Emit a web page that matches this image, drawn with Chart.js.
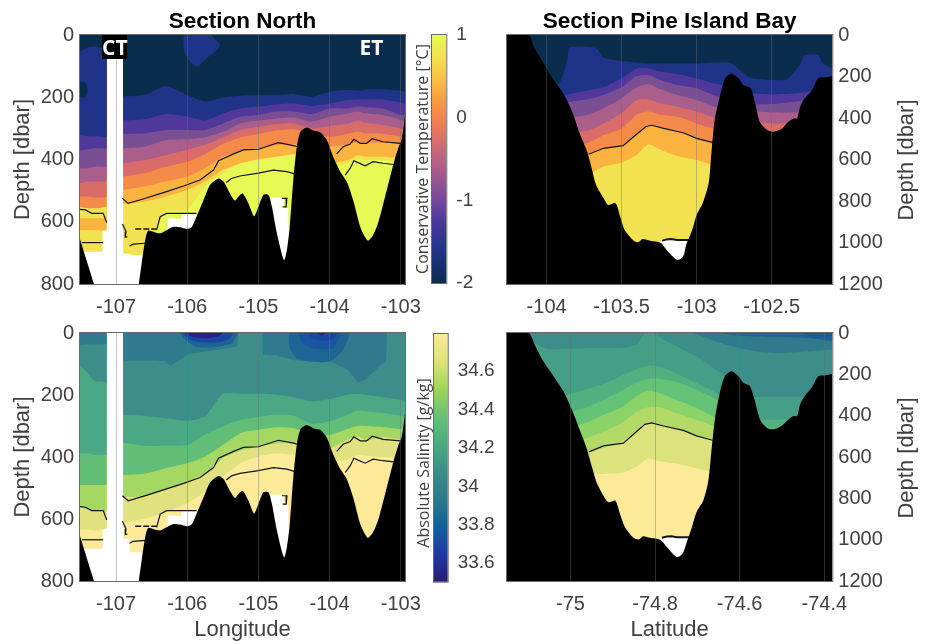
<!DOCTYPE html>
<html>
<head>
<meta charset="utf-8">
<title>Sections</title>
<script src="https://cdn.jsdelivr.net/npm/chart.js@4"></script>
<style>
  html, body { margin: 0; padding: 0; background: #fff; overflow: hidden; }
  #wrap { position: relative; width: 925px; height: 641px; }
  canvas { position: absolute; left: 0; top: 0; }
  .tag { position: absolute; color: #fff; font: bold 21px "Open Sans", sans-serif; text-align: center; z-index: 5; }
  .side { position: absolute; color: #404040; white-space: nowrap; transform: translate(-50%, -50%) rotate(-90deg); z-index: 5; }
  .depth { font: 22px "Liberation Sans", Arial, sans-serif; }
  .bar { font: 16px "Open Sans", sans-serif; }
</style>
</head>
<body>
<div id="wrap">
  <canvas id="northTemp" width="925" height="641"></canvas>
  <canvas id="pineTemp" width="925" height="641"></canvas>
  <canvas id="northSal" width="925" height="641"></canvas>
  <canvas id="pineSal" width="925" height="641"></canvas>
  <canvas id="tempBar" width="925" height="641"></canvas>
  <canvas id="salBar" width="925" height="641"></canvas>
  <div class="tag" style="left:102px;top:35px;width:25px;height:24px;line-height:24px;background:#000;">CT</div>
  <div class="tag" style="left:358px;top:35px;width:27px;height:24px;line-height:24px;">ET</div>
  <div class="side depth" style="left:906px;top:160px;">Depth [dbar]</div>
  <div class="side depth" style="left:906px;top:458px;">Depth [dbar]</div>
  <div class="side bar" style="left:422px;top:159px;">Conservative Temperature [°C]</div>
  <div class="side bar" style="left:423px;top:463px;">Absolute Salinity [g/kg]</div>
</div>
<script>
// ticks
const northLonTicks = [-107, -106, -105, -104, -103];
const northDepthTicks = [0, 200, 400, 600, 800];
const pineLonTicks = [-104, -103.5, -103, -102.5];
const pineLatTicks = [-75, -74.8, -74.6, -74.4];
const pineDepthTicks = [0, 200, 400, 600, 800, 1000, 1200];
const tempBarTicks = [-2, -1, 0, 1];
const salBarTicks = [33.6, 33.8, 34, 34.2, 34.4, 34.6];

// colours, deep to shallow
const navy = '#0a2d4e', blue = '#1f3488', purple = '#50379c', mauve = '#7a4e93', rose = '#a95e8c';
const salmon = '#d96c68', orange = '#f58b48', lightOrange = '#fbb33f', yellow = '#f2e250', bright = '#e6f954';
const pale = '#fdea98', paleLime = '#dfe27e', lime = '#a5d862', green1 = '#62be77';
const teal3 = '#4aa884', teal2 = '#3d8d8a', teal1 = '#2f7a8d', blue3 = '#1d6595', blue2 = '#1a45a0', indigo = '#2b1e8c';
const pineF = '#dde37c', pineE = '#b3da66', pineD = '#8bd368', pineC = '#64c276', pineB = '#52b080', pineA = '#459e86';
const tempStops = [navy, '#1a2f72', '#2b3592', '#4d389c', '#75499a', '#985690', '#bb6286', '#dd6f68', '#f4844c', '#fca03d', '#f9c546', '#f2e350', bright];
const salStops = ['#2a1a78', '#1e3aa0', '#125f9c', '#2a7a8e', '#3b8e88', '#4aab82', '#66c272', '#9dd65a', '#dde27a', pale];

// Section North, sea floor
const floorWestLon = [-107.51, -107.31];
const floorWestDepth = [653, 800];
const floorLon = [-106.68, -106.64, -106.59, -106.55, -106.48, -106.38, -106.29, -106.19, -106.1, -106.01, -105.94, -105.87, -105.77, -105.68, -105.56, -105.49, -105.4, -105.33, -105.28, -105.22, -105.14, -105.06, -105, -104.93, -104.86, -104.81, -104.74, -104.64, -104.6, -104.56, -104.51, -104.46, -104.41, -104.32, -104.23, -104.13, -104.04, -103.95, -103.85, -103.76, -103.67, -103.57, -103.5, -103.46, -103.39, -103.32, -103.22, -103.1, -103.03, -102.99, -102.96, -102.94];
const floorDepth = [800, 734, 659, 629, 632, 637, 627, 616, 618, 623, 618, 584, 530, 482, 461, 471, 509, 532, 519, 509, 541, 582, 552, 514, 514, 552, 637, 723, 691, 616, 466, 359, 311, 297, 307, 313, 337, 391, 439, 471, 530, 616, 650, 661, 643, 605, 519, 412, 359, 337, 295, 257];

// Section North, lower limit of the gridded data
const dataEndWestLon = [-107.51, -107.19, -107.19, -107.13];
const dataEndWestDepth = [696, 696, 629, 629];
const dataEndLon = [-106.9, -106.81, -106.81, -106.3, -106.27, -106.08, -106.08, -105.87, -105.87, -104.83, -104.83, -104.64, -104.64, -104.58, -104.58, -104.51, -104.51, -102.94];
const dataEndDepth = [664, 664, 707, 707, 589, 591, 576, 576, 700, 700, 522, 522, 555, 555, 620, 620, 800, 800];

// Section North contours, east of the gap
const northLon = [-106.9, -106.6, -106.3, -106, -105.75, -105.5, -105.25, -105, -104.75, -104.5, -104.25, -104, -103.75, -103.6, -103.5, -103.25, -103, -102.94];
const tempEast9 = [702, 702, 568, 562, 487, 444, 412, 402, 391, 386, 391, 423, 412, 399, 402, 404, 408, 412];
const tempEast8 = [543, 536, 519, 498, 471, 434, 412, 399, 391, 382, 391, 412, 402, 386, 391, 391, 396, 399];
const tempEast7 = [498, 487, 471, 455, 428, 391, 372, 364, 353, 350, 359, 359, 353, 343, 346, 346, 350, 353];
const tempEast6 = [455, 444, 423, 407, 382, 350, 329, 318, 307, 303, 316, 327, 318, 311, 316, 318, 327, 332];
const tempEast5 = [412, 402, 386, 369, 353, 329, 305, 295, 286, 284, 300, 292, 286, 275, 282, 289, 300, 305];
const tempEast4 = [364, 359, 337, 335, 329, 311, 284, 275, 268, 265, 279, 262, 252, 246, 252, 257, 273, 278];
const tempEast3 = [318, 316, 305, 305, 305, 284, 262, 257, 246, 246, 254, 236, 236, 230, 232, 236, 257, 257];
const tempEast2 = [275, 271, 254, 262, 275, 252, 236, 230, 223, 220, 228, 220, 209, 207, 207, 207, 217, 222];
const tempEast1 = [198, 193, 164, 193, 214, 201, 195, 193, 193, 190, 198, 182, 177, 179, 175, 175, 179, 182];
const tempBlobLon = [-106.05, -106.045, -105.96, -105.87, -105.8, -105.73, -105.61, -105.54, -105.61, -105.66];
const tempBlobDepth = [0, 48, 86, 102, 91, 75, 54, 32, 14, 0];

const salEast6 = [612, 599, 579, 549, 512, 463, 420, 398, 389, 393, 398, 415, 409, 393, 396, 401, 404, 407];
const salEast5 = [528, 528, 504, 479, 452, 404, 379, 366, 357, 353, 357, 371, 345, 334, 345, 337, 343, 347];
const salEast4 = [458, 454, 436, 420, 398, 361, 323, 312, 304, 307, 329, 329, 310, 300, 300, 304, 310, 312];
const salEast3 = [353, 364, 364, 361, 328, 302, 280, 271, 264, 267, 293, 285, 264, 250, 253, 258, 267, 269];
const salEast2 = [264, 267, 275, 283, 269, 196, 196, 196, 199, 207, 221, 213, 199, 196, 199, 207, 215, 219];
const salEast1Lon = [-106.9, -106.6, -106.3, -106.24, -105.98, -105.75, -105.3, -105.28, -104.95, -104.93, -104.75, -104.5, -104.25, -104, -103.75, -103.6, -103.5, -103.25, -103.21, -103.19];
const salEast1 = [90, 89, 92, 104, 69, 60, 42, 0, 0, 69, 72, 88, 92, 92, 118, 159, 151, 97, 95, 0];
const salBlobA1Lon = [-106.1, -106.03, -105.87, -105.59, -105.38, -105.28];
const salBlobA1 = [0, 22, 45, 45, 34, 0];
const salBlobA2Lon = [-106.06, -105.98, -105.82, -105.54, -105.4, -105.36];
const salBlobA2 = [0, 19, 30, 30, 16, 0];
const salBlobA3Lon = [-106.02, -105.94, -105.73, -105.56, -105.5];
const salBlobA3 = [0, 11, 16, 11, 0];
const salBlobB1Lon = [-104.58, -104.56, -104.46, -104.28, -104, -103.81, -103.71];
const salBlobB1 = [0, 48, 81, 92, 92, 54, 0];
const salBlobB2Lon = [-104.44, -104.39, -104.2, -103.95, -103.83];
const salBlobB2 = [0, 32, 52, 48, 0];
const salBlobB3Lon = [-104.3, -104.23, -104.09, -103.95, -103.89];
const salBlobB3 = [0, 19, 24, 19, 0];
const salBlobB4Lon = [-104.16, -104.11, -104.06];
const salBlobB4 = [0, 9, 0];

// Section North contours, west of the gap
const westLon = [-107.51, -107.4, -107.3, -107.2, -107.13];
const tempWest9 = [627, 627, 627, 627, 627];
const tempWest8 = [589, 589, 589, 589, 589];
const tempWest7 = [552, 557, 557, 554, 552];
const tempWest6 = [519, 519, 522, 522, 522];
const tempWest5 = [477, 471, 471, 471, 471];
const tempWest4 = [428, 428, 423, 423, 423];
const tempWest3 = [372, 367, 364, 364, 364];
const tempWest2 = [321, 325, 325, 327, 329];
const tempWest1 = [54, 40, 37, 41, 43];
const tempWestBlobLon = [-107.51, -107.43, -107.4, -107.43, -107.51];
const tempWestBlobDepth = [150, 155, 177, 198, 203];
const salWest5 = [635, 635, 637, 635, 630];
const salWest4 = [560, 569, 573, 573, 576];
const salWest3 = [490, 490, 490, 490, 490];
const salWest2 = [388, 388, 393, 393, 393];
const salWest1 = [102, 129, 156, 156, 162];
const salWest0 = [38, 36, 36, 36, 34];

// Section North, black contour lines
const lineWest1Lon = [-107.51, -107.43, -107.34, -107.18, -107.13];
const lineWest1 = [560, 562, 573, 573, 603];
const lineWest2Lon = [-107.48, -107.18];
const lineWest2 = [667, 667];
const lineMainLon = [-106.91, -106.83, -106.62, -106.29, -106.05, -105.82, -105.63, -105.56, -105.35, -105.21, -105, -104.72, -104.49, -104.42];
const lineMain = [525, 541, 527, 503, 485, 466, 434, 404, 382, 369, 367, 346, 356, 362];
const lineLowLon = [-105.45, -105.38, -105.26, -105, -104.79, -104.6, -104.47];
const lineLow = [474, 461, 453, 444, 434, 439, 448];
const lineRidgeLon = [-103.9, -103.81, -103.71, -103.66, -103.57, -103.48, -103.4, -103.25, -103];
const lineRidge = [382, 359, 350, 335, 348, 348, 333, 343, 348];
const lineRidgeLowLon = [-103.78, -103.71, -103.66, -103.6, -103.5, -103.39, -103.25, -103.1];
const lineRidgeLow = [450, 428, 404, 410, 420, 407, 412, 416];
const lineShelfLon = [-106.43, -106.38, -106.29, -105.87];
const lineShelf = [627, 584, 573, 573];
const lineGapLon = [-106.91, -106.86, -106.87, -106.84];
const lineGap = [607, 632, 650, 648];
const lineDashLon = [-106.73, -106.43];
const lineDash = [623, 623];
const lineDeepLon = [-106.81, -106.76, -106.59];
const lineDeep = [678, 672, 669];
const lineHookLon = [-104.67, -104.6, -104.61, -104.66];
const lineHook = [525, 525, 552, 552];

// Section Pine Island Bay, sea floor
const pineFloorLon = [-104.264, -104.12, -104.08, -104.02, -103.96, -103.89, -103.83, -103.78, -103.73, -103.7, -103.67, -103.62, -103.59, -103.54, -103.51, -103.48, -103.42, -103.39, -103.36, -103.31, -103.24, -103.2, -103.13, -103.09, -103.07, -103.03, -103, -102.96, -102.92, -102.9, -102.88, -102.84, -102.81, -102.77, -102.72, -102.69, -102.64, -102.61, -102.58, -102.53, -102.49, -102.43, -102.39, -102.35, -102.33, -102.31, -102.28, -102.23, -102.19, -102.14, -102.096];
const pineFloorLat = [-75.15, -75.099, -75.083, -75.064, -75.04, -75.017, -74.997, -74.977, -74.961, -74.95, -74.938, -74.922, -74.91, -74.894, -74.883, -74.871, -74.851, -74.839, -74.828, -74.812, -74.788, -74.772, -74.749, -74.735, -74.725, -74.713, -74.702, -74.686, -74.674, -74.666, -74.658, -74.646, -74.635, -74.619, -74.603, -74.591, -74.576, -74.564, -74.552, -74.536, -74.52, -74.501, -74.485, -74.472, -74.464, -74.457, -74.446, -74.43, -74.414, -74.398, -74.381];
const pineFloorDepth = [0, 0, 64, 137, 209, 281, 369, 474, 562, 642, 723, 787, 819, 811, 875, 940, 991, 999, 983, 991, 1001, 1036, 1084, 1068, 1012, 940, 867, 811, 715, 554, 410, 281, 209, 185, 209, 241, 257, 329, 418, 458, 466, 450, 418, 402, 402, 345, 305, 265, 209, 204, 198];

// Section Pine Island Bay, lower limit of the gridded data
const pineEndLon = [-104.13, -103.24, -103.24, -103.04, -103.04, -102.096];
const pineEndLat = [-75.1, -74.788, -74.788, -74.717, -74.717, -74.381];
const pineEndDepth = [1010, 1010, 985, 985, 1100, 1100];

// Section Pine Island Bay contours
const pineLon = [-104.12, -104, -103.87, -103.73, -103.62, -103.5, -103.4, -103.32, -103.24, -103.13, -103, -102.89, -102.78, -102.64, -102.49, -102.33, -102.2, -102.096];
const pineTemp8 = [683, 683, 683, 675, 634, 615, 578, 527, 554, 583, 602, 626, 634, 634, 634, 634, 634, 634];
const pineTemp7 = [602, 602, 602, 574, 546, 533, 477, 437, 446, 462, 498, 519, 522, 522, 522, 522, 522, 522];
const pineTemp6 = [570, 570, 538, 522, 482, 450, 385, 369, 385, 393, 426, 450, 458, 466, 466, 466, 458, 450];
const pineTemp5 = [538, 538, 474, 461, 426, 377, 313, 310, 329, 345, 369, 397, 413, 422, 426, 426, 418, 410];
const pineTemp4 = [442, 442, 401, 385, 353, 305, 252, 236, 262, 289, 313, 345, 361, 365, 374, 374, 369, 361];
const pineTemp3 = [361, 361, 326, 310, 289, 252, 198, 193, 217, 241, 257, 289, 313, 332, 332, 321, 313, 305];
const pineTemp2 = [313, 313, 289, 268, 252, 209, 161, 161, 177, 188, 209, 233, 249, 281, 286, 281, 265, 249];
const pineTemp1Lon = [-104.12, -103.92, -103.88, -103.86, -103.85, -103.78, -103.67, -103.62, -103.5, -103.32, -103.13, -103, -102.78, -102.72, -102.64, -102.49, -102.4, -102.33, -102.3, -102.28, -102.19, -102.16, -102.096];
const pineTemp1 = [241, 233, 169, 112, 61, 56, 64, 108, 125, 137, 137, 137, 133, 165, 206, 217, 214, 161, 128, 96, 96, 137, 161];

const pineLat = [-75.099, -75.056, -75.009, -74.961, -74.922, -74.879, -74.843, -74.816, -74.788, -74.749, -74.702, -74.662, -74.623, -74.576, -74.52, -74.465, -74.418, -74.381];
const pineSal7 = [711, 711, 711, 686, 682, 678, 646, 606, 622, 633, 654, 675, 695, 711, 711, 711, 711, 711];
const pineSal6 = [581, 581, 581, 577, 557, 525, 476, 436, 449, 468, 493, 514, 533, 581, 581, 581, 581, 581];
const pineSal5 = [533, 533, 525, 509, 477, 436, 380, 359, 359, 388, 420, 452, 493, 525, 525, 525, 525, 525];
const pineSal4 = [468, 468, 460, 433, 396, 359, 304, 280, 291, 323, 363, 404, 452, 493, 493, 493, 493, 493];
const pineSal3 = [380, 380, 384, 359, 323, 278, 239, 221, 223, 237, 275, 315, 372, 460, 460, 455, 452, 452];
const pineSal2 = [299, 299, 299, 271, 247, 207, 173, 157, 162, 197, 242, 283, 339, 412, 420, 412, 404, 396];
const pineSal1Lat = [-75.099, -75.056, -75.009, -74.961, -74.922, -74.879, -74.843, -74.824, -74.804, -74.78, -74.749, -74.702, -74.662, -74.623, -74.576, -74.52, -74.465, -74.418, -74.381];
const pineSal1 = [32, 78, 78, 73, 73, 73, 57, 0, 0, 32, 65, 113, 170, 226, 307, 310, 310, 299, 283];
const pineSalTop1Lat = [-74.709, -74.678, -74.639, -74.576, -74.52, -74.442, -74.381];
const pineSalTop1 = [0, 24, 52, 84, 97, 89, 81];
const pineSalTop2Lat = [-74.646, -74.599, -74.52, -74.442, -74.381];
const pineSalTop2 = [0, 13, 19, 24, 40];
const pineSalTop3Lat = [-74.45, -74.422, -74.398, -74.381];
const pineSalTop3 = [0, 24, 19, 16];

// Section Pine Island Bay, black contour lines
const pineLineLon = [-103.72, -103.62, -103.49, -103.42, -103.34, -103.3, -103.22, -103.09, -103, -102.89];
const pineLineLat = [-74.956, -74.922, -74.875, -74.851, -74.824, -74.808, -74.78, -74.733, -74.702, -74.664];
const pineLineDepth = [575, 546, 533, 490, 442, 435, 450, 471, 498, 519];
const pineSillLon = [-103.23, -103.2, -103.17, -103.13, -103.04];
const pineSillLat = [-74.784, -74.772, -74.761, -74.749, -74.717];
const pineSillDepth = [991, 985, 983, 988, 988];

const FONT = '"Liberation Sans", Arial, sans-serif';
const INK = '#404040';

function pts(xs, ys) {
  return xs.map((x, i) => ({ x: x, y: ys[i] }));
}
// filled from the curve up to the sea surface
function band(xs, ys, color, tension) {
  return { data: pts(xs, ys), backgroundColor: color, borderWidth: 0, pointRadius: 0, fill: { value: 0 }, tension: tension === undefined ? 0.2 : tension };
}
function blob(xs, ys, color) {
  return { data: pts(xs, ys), backgroundColor: color, borderWidth: 0, pointRadius: 0, fill: 'shape', tension: 0.3 };
}
function seabed(xs, ys, bottom) {
  return { data: pts(xs, ys), backgroundColor: '#000', borderWidth: 0, pointRadius: 0, fill: { value: bottom }, tension: 0.25 };
}
function contour(xs, ys, width, dash) {
  return { data: pts(xs, ys), borderColor: '#141414', backgroundColor: 'transparent', borderWidth: width || 1.2, borderDash: dash || [], pointRadius: 0, fill: false, tension: 0 };
}

const framePlugin = {
  id: 'frame',
  afterDraw(chart) {
    const a = chart.chartArea, c = chart.ctx;
    c.save();
    c.strokeStyle = '#6a6a6a';
    c.lineWidth = 1;
    c.strokeRect(a.left - 0.5, a.top - 0.5, a.right - a.left + 1, a.bottom - a.top + 1);
    c.restore();
  }
};

function fixTicks(list) {
  return function (axis) { axis.ticks = list.map(v => ({ value: v })); };
}

function panel(id, cfg) {
  // painter's order: the first layer goes at the back
  const total = cfg.layers.length;
  cfg.layers.forEach((d, i) => { d.order = total - i; });
  const onRight = cfg.side === 'right';
  new Chart(document.getElementById(id), {
    type: 'line',
    data: { datasets: cfg.layers },
    plugins: [framePlugin],
    options: {
      responsive: false,
      animation: false,
      events: [],
      layout: { padding: cfg.padding },
      plugins: {
        legend: { display: false },
        tooltip: { enabled: false },
        title: cfg.title ? { display: true, text: cfg.title, fullSize: false, color: '#000', padding: 0, font: { family: FONT, size: 22.5, weight: 'bold', lineHeight: 1.2 } } : { display: false }
      },
      scales: {
        x: {
          type: 'linear', min: cfg.xMin, max: cfg.xMax,
          afterBuildTicks: fixTicks(cfg.xTicks),
          afterFit(s) { s.height = cfg.xHeight; },
          grid: { display: true, z: 1, color: 'rgba(110,110,110,0.4)', drawTicks: false },
          border: { display: false },
          ticks: { color: INK, padding: 11, maxRotation: 0, autoSkip: false, font: { family: FONT, size: 20 }, callback: v => String(v) },
          title: cfg.xTitle ? { display: true, text: cfg.xTitle, color: INK, padding: 0, font: { family: FONT, size: 22, lineHeight: 1 } } : { display: false }
        },
        y: {
          type: 'linear', reverse: true, min: 0, max: cfg.yMax, position: cfg.side,
          afterBuildTicks: fixTicks(cfg.yTicks),
          afterFit(s) { s.width = onRight ? 84.7 : 68; },
          grid: { display: false, drawTicks: false },
          border: { display: false },
          ticks: { color: INK, padding: 6, autoSkip: false, font: { family: FONT, size: 20 }, callback: v => String(v) },
          title: onRight ? { display: false } : { display: true, text: 'Depth [dbar]', color: INK, padding: 0, font: { family: FONT, size: 22, lineHeight: 1 } }
        }
      }
    }
  });
}

function colorBar(id, cfg) {
  new Chart(document.getElementById(id), {
    type: 'bar',
    data: {
      labels: [''],
      datasets: [{
        data: [[cfg.min, cfg.max]],
        barPercentage: 1, categoryPercentage: 1, borderWidth: 0,
        backgroundColor(ctx) {
          const a = ctx.chart.chartArea;
          if (!a) return cfg.stops[0];
          const g = ctx.chart.ctx.createLinearGradient(0, a.bottom, 0, a.top);
          cfg.stops.forEach((c, i) => g.addColorStop(i / (cfg.stops.length - 1), c));
          return g;
        }
      }]
    },
    plugins: [framePlugin],
    options: {
      responsive: false,
      animation: false,
      events: [],
      layout: { padding: cfg.padding },
      plugins: { legend: { display: false }, tooltip: { enabled: false }, title: { display: false } },
      scales: {
        x: { display: false },
        y: {
          type: 'linear', min: cfg.min, max: cfg.max, position: 'right',
          afterBuildTicks: fixTicks(cfg.ticks),
          afterFit(s) { s.width = 54; },
          grid: { display: false, drawTicks: false },
          border: { display: false },
          ticks: { color: INK, padding: 10, autoSkip: false, font: { family: FONT, size: 19 }, callback: v => String(v) }
        }
      }
    }
  });
}

const northLines = () => [
  contour(lineWest1Lon, lineWest1), contour(lineWest2Lon, lineWest2), contour(lineMainLon, lineMain),
  contour(lineLowLon, lineLow), contour(lineRidgeLon, lineRidge), contour(lineRidgeLowLon, lineRidgeLow),
  contour(lineShelfLon, lineShelf), contour(lineGapLon, lineGap), contour(lineDashLon, lineDash, 1.5, [6, 2]),
  contour(lineDeepLon, lineDeep), contour(lineHookLon, lineHook)
];
const northFloor = () => [seabed(floorWestLon, floorWestDepth, 800), seabed(floorLon, floorDepth, 800)];

const NORTH = { xMin: -107.506, xMax: -102.941, yMax: 800, xTicks: northLonTicks, yTicks: northDepthTicks, side: 'left' };
const PINE = { yMax: 1200, yTicks: pineDepthTicks, side: 'right' };

panel('northTemp', Object.assign({}, NORTH, {
  title: 'Section North', xHeight: 30,
  padding: { left: 12, right: 520, top: 8, bottom: 327 },
  layers: [
    band(dataEndWestLon, dataEndWestDepth, yellow, 0),
    band(westLon, tempWest9, lightOrange), band(westLon, tempWest8, yellow), band(westLon, tempWest7, orange),
    band(westLon, tempWest6, salmon), band(westLon, tempWest5, rose), band(westLon, tempWest4, mauve),
    band(westLon, tempWest3, purple), band(westLon, tempWest2, blue), band(westLon, tempWest1, navy),
    blob(tempWestBlobLon, tempWestBlobDepth, navy),
    band(dataEndLon, dataEndDepth, bright, 0),
    band(northLon, tempEast9, yellow), band(northLon, tempEast8, lightOrange), band(northLon, tempEast7, orange),
    band(northLon, tempEast6, salmon), band(northLon, tempEast5, rose), band(northLon, tempEast4, mauve),
    band(northLon, tempEast3, purple), band(northLon, tempEast2, blue), band(northLon, tempEast1, navy),
    blob(tempBlobLon, tempBlobDepth, blue)
  ].concat(northLines(), northFloor())
}));

panel('northSal', Object.assign({}, NORTH, {
  xTitle: 'Longitude', xHeight: 60,
  padding: { left: 12, right: 520, top: 333, bottom: 0 },
  layers: [
    band(dataEndWestLon, dataEndWestDepth, pale, 0),
    band(westLon, salWest5, paleLime), band(westLon, salWest4, lime), band(westLon, salWest3, green1),
    band(westLon, salWest2, teal3), band(westLon, salWest1, teal2), band(westLon, salWest0, teal1),
    band(dataEndLon, dataEndDepth, pale, 0),
    band(northLon, salEast6, paleLime), band(northLon, salEast5, lime), band(northLon, salEast4, green1),
    band(northLon, salEast3, teal3), band(northLon, salEast2, teal2), band(salEast1Lon, salEast1, teal1, 0.1),
    band(salBlobA1Lon, salBlobA1, blue3), band(salBlobA2Lon, salBlobA2, blue2), band(salBlobA3Lon, salBlobA3, indigo),
    band(salBlobB1Lon, salBlobB1, blue3), band(salBlobB2Lon, salBlobB2, '#1a55a0'), band(salBlobB3Lon, salBlobB3, blue2), band(salBlobB4Lon, salBlobB4, indigo)
  ].concat(northLines(), northFloor())
}));

panel('pineTemp', Object.assign({}, PINE, {
  title: 'Section Pine Island Bay', xHeight: 30,
  xMin: -104.264, xMax: -102.096, xTicks: pineLonTicks,
  padding: { left: 507, right: 8, top: 8, bottom: 327 },
  layers: [
    band(pineEndLon, pineEndDepth, yellow, 0),
    band(pineLon, pineTemp8, lightOrange), band(pineLon, pineTemp7, orange), band(pineLon, pineTemp6, salmon),
    band(pineLon, pineTemp5, rose), band(pineLon, pineTemp4, mauve), band(pineLon, pineTemp3, purple),
    band(pineLon, pineTemp2, blue), band(pineTemp1Lon, pineTemp1, navy),
    contour(pineLineLon, pineLineDepth), contour(pineSillLon, pineSillDepth, 2),
    seabed(pineFloorLon, pineFloorDepth, 1200)
  ]
}));

panel('pineSal', Object.assign({}, PINE, {
  xTitle: 'Latitude', xHeight: 60,
  xMin: -75.15, xMax: -74.381, xTicks: pineLatTicks,
  padding: { left: 507, right: 8, top: 333, bottom: 0 },
  layers: [
    band(pineEndLat, pineEndDepth, pale, 0),
    band(pineLat, pineSal7, pineF), band(pineLat, pineSal6, pineE), band(pineLat, pineSal5, pineD),
    band(pineLat, pineSal4, pineC), band(pineLat, pineSal3, pineB), band(pineLat, pineSal2, pineA),
    band(pineSal1Lat, pineSal1, teal2, 0.1),
    band(pineSalTop1Lat, pineSalTop1, teal1), band(pineSalTop2Lat, pineSalTop2, blue3), band(pineSalTop3Lat, pineSalTop3, '#175a9e'),
    contour(pineLineLat, pineLineDepth), contour(pineSillLat, pineSillDepth, 2),
    seabed(pineFloorLat, pineFloorDepth, 1200)
  ]
}));

colorBar('tempBar', { min: -2, max: 1, ticks: tempBarTicks, stops: tempStops, padding: { left: 432, right: 424.7, top: 35, bottom: 358 } });
colorBar('salBar', { min: 33.504, max: 34.793, ticks: salBarTicks, stops: salStops, padding: { left: 434, right: 423.3, top: 334, bottom: 59.3 } });
</script>
</body>
</html>
